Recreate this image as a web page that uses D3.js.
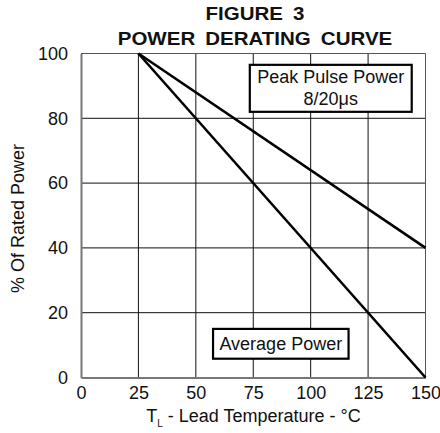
<!DOCTYPE html>
<html>
<head>
<meta charset="utf-8">
<script src="https://cdn.jsdelivr.net/npm/d3@7"></script>
<style>
  html, body { margin: 0; padding: 0; background: #fff; }
  svg { display: block; font-family: "Liberation Sans", Arial, Helvetica, sans-serif; }
</style>
</head>
<body>
<div id="chart"></div>
<script>
var temp_ticks     = [0, 25, 50, 75, 100, 125, 150];
var pct_ticks      = [0, 20, 40, 60, 80, 100];
var peak_temp      = [25, 150];
var peak_pct       = [100, 40];
var average_temp   = [25, 150];
var average_pct    = [100, 0];
var title_lines    = ["FIGURE 3", "POWER DERATING CURVE"];

var width_chart  = 440;
var height_chart = 433;
var margin_chart = {top: 53.5, right: 14.5, bottom: 55.5, left: 81};
var inner_w = width_chart - margin_chart.left - margin_chart.right;
var inner_h = height_chart - margin_chart.top - margin_chart.bottom;

var svg = d3.select("#chart").append("svg")
  .attr("width", width_chart)
  .attr("height", height_chart);

var g = svg.append("g")
  .attr("transform", "translate(" + margin_chart.left + "," + margin_chart.top + ")");

var x = d3.scaleLinear().domain([0, 150]).range([0, inner_w]);
var y = d3.scaleLinear().domain([0, 100]).range([inner_h, 0]);

// grid lines (inner ones only)
g.append("g")
  .selectAll("line")
  .data(temp_ticks.slice(1, -1))
  .enter().append("line")
  .attr("x1", function (d) { return x(d); })
  .attr("x2", function (d) { return x(d); })
  .attr("y1", 0)
  .attr("y2", inner_h)
  .attr("stroke", "#111")
  .attr("stroke-width", 1);

g.append("g")
  .selectAll("line")
  .data(pct_ticks.slice(1, -1))
  .enter().append("line")
  .attr("x1", 0)
  .attr("x2", inner_w)
  .attr("y1", function (d) { return y(d); })
  .attr("y2", function (d) { return y(d); })
  .attr("stroke", "#111")
  .attr("stroke-width", 1);

// frame: top and right thin, left and bottom heavier grey
g.append("line").attr("x1", 0).attr("x2", inner_w).attr("y1", 0).attr("y2", 0)
  .attr("stroke", "#555").attr("stroke-width", 1);
g.append("line").attr("x1", inner_w).attr("x2", inner_w).attr("y1", 0).attr("y2", inner_h)
  .attr("stroke", "#555").attr("stroke-width", 1);

// axes
var x_axis = g.append("g")
  .attr("transform", "translate(0," + inner_h + ")")
  .call(d3.axisBottom(x).tickValues(temp_ticks).tickSize(0).tickPadding(9));
var y_axis = g.append("g")
  .call(d3.axisLeft(y).tickValues(pct_ticks).tickSize(0).tickPadding(13));

[x_axis, y_axis].forEach(function (a) {
  a.select(".domain").attr("stroke", "#777").attr("stroke-width", 2);
  a.selectAll("text")
    .attr("fill", "#111")
    .style("font-size", "18px")
    .style("font-family", "\"Liberation Sans\", Arial, Helvetica, sans-serif");
});

// derating lines
var line = d3.line()
  .x(function (d) { return x(d[0]); })
  .y(function (d) { return y(d[1]); });

[[peak_temp, peak_pct], [average_temp, average_pct]].forEach(function (s) {
  g.append("path")
    .datum(d3.zip(s[0], s[1]))
    .attr("d", line)
    .attr("fill", "none")
    .attr("stroke", "#000")
    .attr("stroke-width", 2.6);
});

// labelled boxes
function label_box(x0, y0, w, h, lines, base) {
  g.append("rect")
    .attr("x", x0).attr("y", y0).attr("width", w).attr("height", h)
    .attr("fill", "#fff").attr("stroke", "#000").attr("stroke-width", 2.2);
  lines.forEach(function (t, i) {
    g.append("text")
      .attr("x", x0 + w / 2)
      .attr("y", base + i * 21.5)
      .attr("text-anchor", "middle")
      .attr("fill", "#111")
      .style("font-size", "18px")
      .text(t);
  });
}
label_box(x(73.5), y(96.5), x(144) - x(73.5), y(82) - y(96.5), ["Peak Pulse Power", "8/20\u03bcs"], y(90.8));
label_box(x(57.5), y(15), x(116.5) - x(57.5), y(5.8) - y(15), ["Average Power"], y(8.5));

// titles (glyphs in the original are a little wider than Arial bold)
title_lines.forEach(function (t, i) {
  svg.append("text")
    .attr("transform", "translate(255," + (20 + i * 25) + ") scale(1.08,1)")
    .attr("text-anchor", "middle")
    .attr("fill", "#111")
    .style("font-size", "19px")
    .style("font-weight", "bold")
    .style("word-spacing", "4px")
    .text(t);
});

// axis titles
var x_title = svg.append("text")
  .attr("x", 253.5)
  .attr("y", 422)
  .attr("text-anchor", "middle")
  .attr("fill", "#111")
  .style("font-size", "18px");
x_title.append("tspan").text("T");
x_title.append("tspan").attr("dy", 5).style("font-size", "10px").text("L");
x_title.append("tspan").attr("dy", -5).text(" - Lead Temperature - \u00b0C");

svg.append("text")
  .attr("transform", "translate(24," + (margin_chart.top + inner_h / 2 + 3) + ") rotate(-90)")
  .attr("text-anchor", "middle")
  .attr("fill", "#111")
  .style("font-size", "18px")
  .text("% Of Rated Power");
</script>
</body>
</html>
